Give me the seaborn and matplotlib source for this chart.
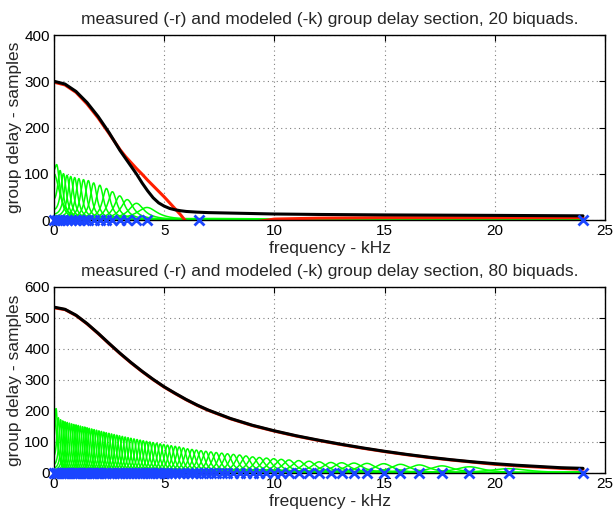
import numpy as np
import pandas as pd
import seaborn as sns
import matplotlib.pyplot as plt

# ---- values ----
# top panel: 20 biquads
freq_top = [0, 0.5, 1.0, 1.5, 2.0, 2.5, 3.0, 3.25, 3.5, 3.75, 4.0, 4.25,
            4.5, 4.75, 5.0, 5.25, 5.5, 5.75, 6.0, 6.5, 7.0, 8.0, 9.0, 10,
            12, 15, 20, 24]
measured_top = [298, 292, 276, 251, 221, 187, 152, 137, 124, 111, 99, 86,
                74, 62, 50, 37, 24, 11, -4, -15, -20, -15, -5, 2,
                4, 5, 5, 5]
modeled_top = [300, 294, 278, 254, 224, 189, 150, 133, 116, 99, 80, 63,
               48, 37, 30, 25, 22, 20, 18.5, 17, 16, 15, 14, 13,
               12, 11, 10, 9]
centers_top = [0.00, 0.14, 0.28, 0.43, 0.59, 0.76, 0.94, 1.13, 1.34, 1.56,
               1.80, 2.08, 2.38, 2.65, 2.98, 3.32, 3.74, 4.22, 6.56, 24.0]
peaks_top = [50, 95, 100, 97, 95, 93, 91, 89, 87, 85,
             80, 75, 68, 61, 52, 44, 36, 27, 3, 2]

# bottom panel: 80 biquads
freq_bot = [0, 0.5, 1, 1.5, 2, 2.5, 3, 3.5, 4, 4.5, 5, 5.5, 6, 6.5, 7, 8,
            9, 10, 11, 12, 13, 14, 15, 16, 17, 18, 19, 20, 21, 22, 23, 24]
measured_bot = [533, 527, 508, 481, 450, 417, 385, 355, 327, 301, 277, 256,
                236, 218, 202, 175, 153, 135, 119, 105, 92, 80, 69, 59,
                50, 42, 35, 28, 23, 19, 15, 12]
modeled_bot = [535, 528, 509, 482, 451, 418, 386, 356, 328, 302, 278, 257,
               237, 219, 203, 176, 154, 136, 120, 106, 93, 81, 70, 60,
               51, 43, 36, 30, 25, 21, 17, 15]
centers_bot = [0.00, 0.10, 0.20, 0.30, 0.40, 0.50, 0.60, 0.70, 0.80, 0.90,
               1.00, 1.10, 1.20, 1.30, 1.40, 1.50, 1.60, 1.71, 1.82, 1.93,
               2.04, 2.15, 2.26, 2.37, 2.49, 2.61, 2.73, 2.85, 2.97, 3.10,
               3.23, 3.36, 3.49, 3.63, 3.77, 3.91, 4.05, 4.20, 4.35, 4.50,
               4.66, 4.82, 4.98, 5.15, 5.32, 5.50, 5.68, 5.87, 6.06, 6.26,
               6.46, 6.67, 6.89, 7.12, 7.36, 7.61, 7.87, 8.14, 8.42, 8.71,
               9.01, 9.32, 9.64, 9.97, 10.31, 10.66, 11.10,
               11.57, 12.03, 12.56, 13.05, 13.61, 14.20, 14.96, 15.72, 16.58,
               17.60, 18.85, 20.64, 24.00]
peaks_bot = [95, 180, 170, 168, 166, 164, 162, 160, 158, 156,
             155, 153, 151, 149, 148, 146, 144, 142, 140, 138,
             136, 134, 132, 130, 128, 126, 124, 122, 120, 118,
             116, 114, 112, 110, 108, 106, 104, 102, 100, 98,
             96, 94, 92, 90, 88, 86, 84, 81, 78, 76,
             74, 72, 70, 68, 66, 64, 62, 60, 58, 55,
             52, 50, 48, 46, 44, 42, 40,
             38, 36, 34, 33, 32, 31, 30, 28, 26,
             23, 20, 14, 4]

TITLE = 'measured (-r) and modeled (-k) group delay section, {} biquads.'


def section_curves(centers, peaks):
    # group delay of each resonant section (pole pair + its mirror image)
    f = np.linspace(0, 24, 2401)
    rows = []
    for i, (fc, h) in enumerate(zip(centers, peaks)):
        w = 15.3 / h
        d = h / (1 + ((f - fc) / w) ** 2) + h / (1 + ((f + fc) / w) ** 2)
        rows.append(pd.DataFrame({'freq': f, 'delay': d, 'biquad': i}))
    return pd.concat(rows, ignore_index=True)


def panel(ax, freq, measured, modeled, centers, peaks, ymax):
    sns.lineplot(data=section_curves(centers, peaks), x='freq', y='delay',
                 units='biquad', estimator=None, color=(0, 1, 0), lw=1.1,
                 ax=ax, legend=False)
    sns.lineplot(x=freq, y=measured, color=(1, 0.12, 0), lw=2.2, ax=ax)
    sns.lineplot(x=freq, y=modeled, color='black', lw=2.2, ax=ax)
    ax.plot(centers, np.zeros(len(centers)), 'x', color='#1a45ff', ms=7,
            mew=2.0, clip_on=False, zorder=5)
    ax.set_xlim(0, 25)
    ax.set_ylim(0, ymax)
    ax.set_xticks(range(0, 26, 5))
    ax.set_yticks(range(0, ymax + 1, 100))
    ax.grid(True, color='0.5', linestyle=(0, (1, 3)), lw=0.8)
    ax.tick_params(direction='in', top=True, right=True, length=4,
                   labelsize=11, pad=3, colors='black')
    for s in ax.spines.values():
        s.set_color('black')
        s.set_linewidth(1.0)
    ax.set_xlabel('frequency - kHz', fontsize=12.5, labelpad=2)
    ax.set_ylabel('group delay - samples', fontsize=12.5, labelpad=2)
    ax.set_title(TITLE.format(len(centers)), fontsize=12.5, pad=8)


def main():
    sns.set_style('white')
    plt.rcParams['font.family'] = ['Liberation Sans', 'DejaVu Sans']
    fig = plt.figure(figsize=(6.14, 5.12), dpi=100)
    ax1 = fig.add_axes([0.0879, 0.5703, 0.8975, 0.3613])
    ax2 = fig.add_axes([0.0879, 0.0762, 0.8975, 0.3633])
    panel(ax1, freq_top, measured_top, modeled_top, centers_top, peaks_top, 400)
    panel(ax2, freq_bot, measured_bot, modeled_bot, centers_bot, peaks_bot, 600)
    fig.savefig('out.png', dpi=100)


if __name__ == '__main__':
    main()
